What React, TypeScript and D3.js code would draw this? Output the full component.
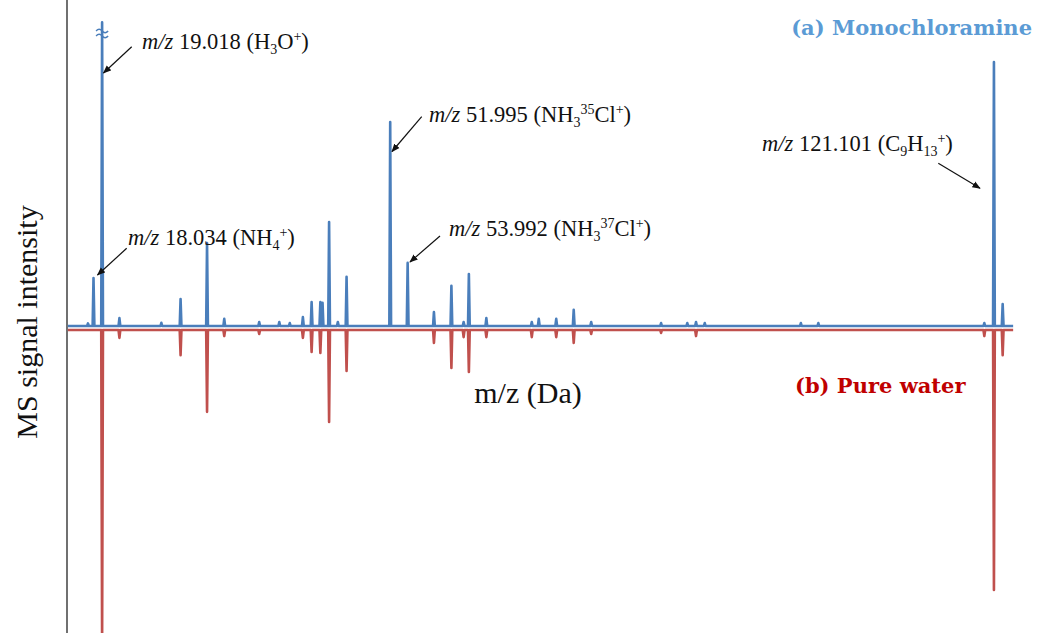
import * as d3 from 'd3'

const W = 1037
const H = 633

// m/z window shown on the x axis
const mzDomain = [15, 125]
const mzFirst = 15.1
const mzLast = 123.3

// (a) monochloramine, drawn upward (relative intensity, C9H13+ = 100)
const monoMz = [17.4, 18.034, 19.018, 21, 25.8, 28, 31.03, 33, 37, 39.3, 40.5, 42, 43, 44, 44.25, 45, 46, 47, 51.995, 53.992, 57, 59, 60.4, 61, 63, 68.2, 69, 71, 73, 75, 83, 86, 87, 88, 99, 101, 120, 121.101, 122.1]
const monoInt = [1, 18.2, 115, 3, 1.2, 10.2, 31.4, 2.7, 1.5, 1.5, 1.1, 3.4, 9.1, 9.1, 8.8, 39.4, 1.5, 18.6, 77.3, 23.9, 5.3, 15.2, 1.5, 19.7, 3, 1.5, 2.7, 2.7, 6.1, 1.5, 1.1, 1.1, 1.5, 1.1, 1.1, 1.1, 1.1, 100, 8.3]

// (b) pure water, drawn downward
const waterMz = [19.018, 21, 28, 31.03, 33, 37, 42, 43, 44, 45, 47, 57, 59, 60.4, 61, 63, 68.2, 71, 73, 75, 83, 87, 120, 121.101, 122.1]
const waterInt = [120, 3, 9.5, 31, 2.3, 1.5, 3, 8.3, 8.7, 34.8, 15.5, 4.9, 14.4, 2.7, 15.9, 2.7, 2.7, 2.7, 4.9, 1.5, 1.1, 2.3, 2.3, 98.5, 9.5]

type Seg = { t: string; lv?: number; it?: boolean }

const annotations: { x: number; y: number; ax: number[]; parts: Seg[] }[] = [
  { x: 142, y: 49, ax: [131.7, 46.7, 103.5, 73], parts: [{ t: 'm/z', it: true }, { t: ' 19.018 (H' }, { t: '3', lv: -1 }, { t: 'O' }, { t: '+', lv: 1 }, { t: ')' }] },
  { x: 128, y: 245, ax: [126.7, 248.3, 97.5, 275], parts: [{ t: 'm/z', it: true }, { t: ' 18.034 (NH' }, { t: '4', lv: -1 }, { t: '+', lv: 1 }, { t: ')' }] },
  { x: 429, y: 122, ax: [421.7, 116.7, 392, 151.5], parts: [{ t: 'm/z', it: true }, { t: ' 51.995 (NH' }, { t: '3', lv: -1 }, { t: '35', lv: 1 }, { t: 'Cl' }, { t: '+', lv: 1 }, { t: ')' }] },
  { x: 449, y: 236, ax: [440, 236, 410, 262], parts: [{ t: 'm/z', it: true }, { t: ' 53.992 (NH' }, { t: '3', lv: -1 }, { t: '37', lv: 1 }, { t: 'Cl' }, { t: '+', lv: 1 }, { t: ')' }] },
  { x: 762, y: 151, ax: [938.3, 163.3, 980, 188.3], parts: [{ t: 'm/z', it: true }, { t: ' 121.101 (C' }, { t: '9', lv: -1 }, { t: 'H' }, { t: '13', lv: -1 }, { t: '+', lv: 1 }, { t: ')' }] },
]

function stickPoints(mz: number[], val: number[]) {
  const pts: [number, number][] = [[mzFirst, 0]]
  mz.forEach((m, i) => {
    pts.push([m - 0.1, 0], [m, val[i]], [m + 0.1, 0])
  })
  pts.push([mzLast, 0])
  return pts
}

function Annot({ x, y, parts }: { x: number; y: number; parts: Seg[] }) {
  const off = (lv = 0) => (lv < 0 ? 5 : lv > 0 ? -8 : 0)
  let prev = 0
  return (
    <text x={x} y={y} fontFamily="'Liberation Serif', serif" fontSize={22.5} fill="#111">
      {parts.map((p, i) => {
        const o = off(p.lv)
        const dy = o - prev
        prev = o
        return (
          <tspan key={i} dy={dy} fontStyle={p.it ? 'italic' : 'normal'} fontSize={p.lv ? 14 : 22.5}>
            {p.t}
          </tspan>
        )
      })}
    </text>
  )
}

export default function App() {
  const x = d3.scaleLinear().domain(mzDomain).range([67, 1028])
  const yUp = d3.scaleLinear().domain([0, 100]).range([326, 62])
  const yDown = d3.scaleLinear().domain([0, 100]).range([330, 594])

  const lineUp = d3.line<[number, number]>().x(d => x(d[0])).y(d => yUp(d[1]))
  const lineDown = d3.line<[number, number]>().x(d => x(d[0])).y(d => yDown(d[1]))

  const breakX = x(19.018)

  return (
    <svg width={W} height={H} style={{ position: 'absolute', left: 0, top: 0, background: '#fff' }}>
      <defs>
        <marker id="ah" viewBox="0 0 10 10" refX="9" refY="5" markerWidth="7" markerHeight="7" orient="auto">
          <path d="M0,1 L10,5 L0,9 Z" fill="#111" />
        </marker>
      </defs>

      {/* y axis */}
      <line x1={x(15)} x2={x(15)} y1={0} y2={H} stroke="#111" strokeWidth={1.2} />

      <path d={lineDown(stickPoints(waterMz, waterInt)) || ''} fill="none" stroke="#c0504d" strokeWidth={2.6} strokeLinejoin="round" />
      <path d={lineUp(stickPoints(monoMz, monoInt)) || ''} fill="none" stroke="#4a7ebb" strokeWidth={2.6} strokeLinejoin="round" />

      {/* axis break on the H3O+ peak */}
      <g stroke="#4a7ebb" strokeWidth={1.5} fill="none" transform={`translate(${breakX},0)`}>
        <path d="M-6,31 q3,-3.5 6,0 t6,0" />
        <path d="M-6,36 q3,-3.5 6,0 t6,0" />
      </g>

      <text transform="translate(37,322) rotate(-90)" textAnchor="middle" fontFamily="'Liberation Serif', serif" fontSize={30} fill="#111">
        MS signal intensity
      </text>
      <text x={528} y={403} textAnchor="middle" fontFamily="'Liberation Serif', serif" fontSize={30} fill="#111">
        m/z (Da)
      </text>

      {annotations.map((a, i) => (
        <g key={i}>
          <line x1={a.ax[0]} y1={a.ax[1]} x2={a.ax[2]} y2={a.ax[3]} stroke="#111" strokeWidth={1.2} markerEnd="url(#ah)" />
          <Annot x={a.x} y={a.y} parts={a.parts} />
        </g>
      ))}

      <text x={1032} y={35} textAnchor="end" fontFamily="'DejaVu Serif', serif" fontWeight="bold" fontSize={21} fill="#5b9bd5">
        (a) Monochloramine
      </text>
      <text x={795} y={393} fontFamily="'DejaVu Serif', serif" fontWeight="bold" fontSize={21} fill="#c00000">
        (b) Pure water
      </text>
    </svg>
  )
}
